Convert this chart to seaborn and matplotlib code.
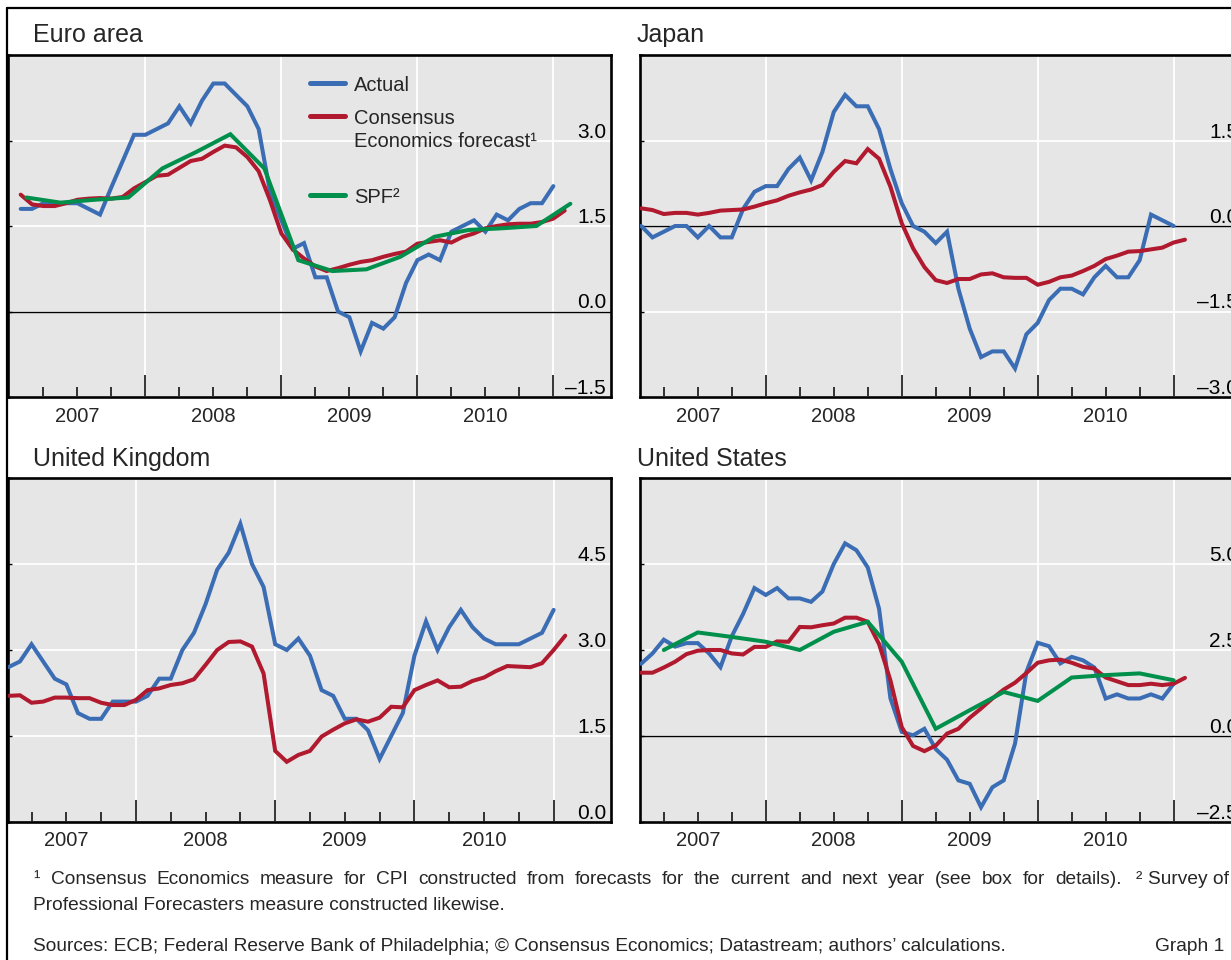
import numpy as np
import matplotlib
matplotlib.use("Agg")
import matplotlib.pyplot as plt
import matplotlib.transforms as mtransforms
from matplotlib.lines import Line2D
import seaborn as sns

# ---------------- data (monthly, index 1 = Jan 2007) ----------------
START_MONTH = 1

euro_actual = [1.8, 1.8, 1.9, 1.9, 1.9, 1.9, 1.8, 1.7, 2.18, 2.64, 3.1, 3.1,
               3.2, 3.3, 3.6, 3.3, 3.7, 4.0, 4.0, 3.8, 3.6, 3.2, 2.1, 1.6,
               1.1, 1.2, 0.6, 0.6, 0.0, -0.1, -0.7, -0.2, -0.3, -0.1, 0.5, 0.9,
               1.0, 0.9, 1.4, 1.5, 1.6, 1.4, 1.7, 1.6, 1.8, 1.9, 1.9, 2.2]
euro_consensus = [2.05, 1.88, 1.85, 1.85, 1.90, 1.96, 1.98, 1.99, 1.98, 2.01, 2.16, 2.27,
                  2.38, 2.40, 2.52, 2.64, 2.68, 2.80, 2.91, 2.88, 2.71, 2.46, 1.95, 1.37,
                  1.09, 0.93, 0.79, 0.71, 0.76, 0.82, 0.87, 0.90, 0.96, 1.01, 1.05, 1.19,
                  1.22, 1.25, 1.21, 1.31, 1.37, 1.46, 1.50, 1.53, 1.54, 1.54, 1.57, 1.63, 1.77]
# quarterly, plotted at mid-quarter
euro_spf = [2.00, 1.91, 1.96, 2.00, 2.51, 2.80, 3.11, 2.51, 0.90,
            0.71, 0.74, 0.96, 1.31, 1.43, 1.46, 1.50, 1.89]

japan_actual = [0.0, -0.2, -0.1, 0.0, 0.0, -0.2, 0.0, -0.2, -0.2, 0.3, 0.6, 0.7,
                0.7, 1.0, 1.2, 0.8, 1.3, 2.0, 2.3, 2.1, 2.1, 1.7, 1.0, 0.4,
                0.0, -0.1, -0.3, -0.1, -1.1, -1.8, -2.3, -2.2, -2.2, -2.5, -1.9, -1.7,
                -1.3, -1.1, -1.1, -1.2, -0.9, -0.7, -0.9, -0.9, -0.6, 0.2, 0.1, 0.0]
japan_consensus = [0.31, 0.28, 0.21, 0.23, 0.23, 0.20, 0.23, 0.27, 0.28, 0.29, 0.34, 0.40,
                   0.45, 0.53, 0.59, 0.64, 0.72, 0.95, 1.14, 1.10, 1.35, 1.18, 0.69, 0.05,
                   -0.39, -0.72, -0.95, -1.00, -0.93, -0.93, -0.85, -0.83, -0.90, -0.91, -0.91, -1.03,
                   -0.98, -0.90, -0.87, -0.79, -0.70, -0.58, -0.52, -0.45, -0.44, -0.41, -0.38, -0.29, -0.24]

uk_actual = [2.7, 2.8, 3.1, 2.8, 2.5, 2.4, 1.9, 1.8, 1.8, 2.1, 2.1, 2.1,
             2.2, 2.5, 2.5, 3.0, 3.3, 3.8, 4.4, 4.7, 5.2, 4.5, 4.1, 3.1,
             3.0, 3.2, 2.9, 2.3, 2.2, 1.8, 1.8, 1.6, 1.1, 1.5, 1.9, 2.9,
             3.5, 3.0, 3.4, 3.7, 3.4, 3.2, 3.1, 3.1, 3.1, 3.2, 3.3, 3.7]
uk_consensus = [2.20, 2.21, 2.08, 2.10, 2.17, 2.17, 2.16, 2.16, 2.08, 2.04, 2.04, 2.13,
                2.30, 2.33, 2.39, 2.42, 2.49, 2.74, 3.00, 3.14, 3.15, 3.06, 2.59, 1.24,
                1.05, 1.17, 1.24, 1.49, 1.61, 1.72, 1.79, 1.75, 1.82, 2.01, 2.00, 2.30,
                2.39, 2.47, 2.35, 2.36, 2.46, 2.52, 2.63, 2.72, 2.71, 2.70, 2.77, 3.00, 3.25]

us_actual = [2.1, 2.4, 2.8, 2.6, 2.7, 2.7, 2.4, 2.0, 2.9, 3.55, 4.3, 4.1,
             4.3, 4.0, 4.0, 3.9, 4.2, 5.0, 5.6, 5.4, 4.9, 3.7, 1.1, 0.12,
             0.02, 0.21, -0.38, -0.69, -1.29, -1.39, -2.07, -1.49, -1.29, -0.22, 1.86, 2.71,
             2.61, 2.11, 2.30, 2.20, 1.99, 1.09, 1.21, 1.09, 1.09, 1.21, 1.09, 1.52]
us_consensus = [1.84, 1.84, 1.99, 2.16, 2.38, 2.48, 2.50, 2.50, 2.40, 2.37, 2.59, 2.59,
                2.75, 2.74, 3.17, 3.16, 3.22, 3.27, 3.44, 3.44, 3.32, 2.67, 1.62, 0.26,
                -0.29, -0.44, -0.28, 0.07, 0.21, 0.53, 0.80, 1.09, 1.35, 1.55, 1.83, 2.13,
                2.20, 2.22, 2.13, 2.01, 1.96, 1.70, 1.59, 1.48, 1.48, 1.52, 1.48, 1.52, 1.69]
# quarterly, plotted at quarter end
us_spf = [2.50, 3.01, 2.88, 2.74, 2.50, 3.03, 3.32, 2.16, 0.21,
          0.75, 1.28, 1.02, 1.70, 1.77, 1.82, 1.62]

years = [2007, 2008, 2009, 2010]
legend_labels = ["Actual", "Consensus\nEconomics forecast\u00b9\n", "SPF\u00b2"]

foot1_mark = "\u00b9"
foot1_a = ("Consensus Economics measure for CPI constructed from forecasts for the current "
           "and next year (see box for details).")
foot1_mark2 = "\u00b2"
foot1_b = "Survey of"
foot2 = "Professional Forecasters measure constructed likewise."
sources = ("Sources: ECB; Federal Reserve Bank of Philadelphia; \u00a9 Consensus Economics; "
           "Datastream; authors\u2019 calculations.")
graph_label = "Graph 1"

# ---------------- style ----------------
sns.set_style("white", {"axes.facecolor": "#E6E6E6"})
plt.rcParams['font.family'] = ['Liberation Sans', 'DejaVu Sans']

BLUE = "#3B6DB4"
RED = "#B0192E"
GREEN = "#00904C"
LW = 2.9

W, H = 1231, 960
fig = plt.figure(figsize=(W / 100, H / 100), dpi=100)
fig.patch.set_facecolor("white")


def monthly_x(vals, start=START_MONTH):
    return 2007 + (start + np.arange(len(vals))) / 12.0


def quarterly_x(vals, first_month, step=3):
    return 2007 + (first_month + step * np.arange(len(vals))) / 12.0


panels = [
    dict(title="Euro area", tpos=(33, 35), box=(8, 55, 611, 397), xlim=(2006.99, 2011.424),
         ylim=(-1.5, 4.5), yticks=[-1.5, 0.0, 1.5, 3.0, 4.5],
         series=[(monthly_x(euro_actual), euro_actual, BLUE),
                 (monthly_x(euro_consensus), euro_consensus, RED),
                 (quarterly_x(euro_spf, 1.5), euro_spf, GREEN)],
         legend=True),
    dict(title="Japan", tpos=(637, 35), box=(640, 55, 1243, 397), xlim=(2007.075, 2011.51),
         ylim=(-3.0, 3.0), yticks=[-3.0, -1.5, 0.0, 1.5, 3.0],
         series=[(monthly_x(japan_actual), japan_actual, BLUE),
                 (monthly_x(japan_consensus), japan_consensus, RED)],
         legend=False),
    dict(title="United Kingdom", tpos=(33, 459), box=(8, 478, 611, 822), xlim=(2007.081, 2011.412),
         ylim=(0.0, 6.0), yticks=[0.0, 1.5, 3.0, 4.5, 6.0],
         series=[(monthly_x(uk_actual), uk_actual, BLUE),
                 (monthly_x(uk_consensus), uk_consensus, RED)],
         legend=False),
    dict(title="United States", tpos=(637, 459), box=(640, 478, 1243, 822), xlim=(2007.075, 2011.51),
         ylim=(-2.5, 7.5), yticks=[-2.5, 0.0, 2.5, 5.0, 7.5],
         series=[(monthly_x(us_actual), us_actual, BLUE),
                 (monthly_x(us_consensus), us_consensus, RED),
                 (quarterly_x(us_spf, 3), us_spf, GREEN)],
         legend=False),
]

for p in panels:
    l, t, r, b = p["box"]
    ax = fig.add_axes([l / W, 1 - b / H, (r - l) / W, (b - t) / H])
    ax.set_facecolor("#E6E6E6")
    handles = []
    for x, y, c in p["series"]:
        sns.lineplot(x=x, y=y, ax=ax, color=c, linewidth=LW, legend=False,
                     estimator=None, sort=False)
        handles.append(ax.lines[-1])
        ax.lines[-1].set_solid_joinstyle("miter")
        ax.lines[-1].set_zorder(3)
    ax.set_xlim(*p["xlim"])
    ax.set_ylim(*p["ylim"])

    ax.set_xticks([2008, 2009, 2010, 2011])
    ax.set_xticks([yr + q for yr in years for q in (0.25, 0.5, 0.75)], minor=True)
    ax.set_yticks(p["yticks"])
    ax.grid(True, which="major", color="white", linewidth=1.3)
    ax.grid(False, which="minor")
    ax.set_axisbelow(True)
    ax.axhline(0.0, color="black", linewidth=1.0, zorder=1)

    ax.tick_params(axis="x", which="major", direction="in", length=16, width=1.1,
                   color="black", bottom=True, top=False, labelbottom=False)
    ax.tick_params(axis="x", which="minor", direction="in", length=7.5, width=1.1,
                   color="black", bottom=True, top=False, labelbottom=False)
    ax.tick_params(axis="y", which="major", direction="in", length=3, width=1.0,
                   color="black", left=True, right=False, labelleft=False)
    ax.set_xlabel("")
    ax.set_ylabel("")
    for s in ax.spines.values():
        s.set_visible(True)
        s.set_color("black")
        s.set_linewidth(1.9)

    # right-side inner value labels (all but top)
    ytr = mtransforms.offset_copy(ax.get_yaxis_transform(), fig=fig, x=-5, y=3, units="dots")
    for v in p["yticks"][:-1]:
        lab = f"{v:.1f}".replace("-", "\u2013")
        ax.text(1.0, v, lab, transform=ytr, ha="right", va="baseline", fontsize=15, color="black")

    # year labels centered mid-year below the axis
    xtr = mtransforms.offset_copy(ax.get_xaxis_transform(), fig=fig, x=0, y=-19, units="dots")
    for yr in years:
        ax.text(yr + 0.5, 0, str(yr), transform=xtr, ha="center", va="center", fontsize=14.5)

    fig.text(p["tpos"][0] / W, 1 - p["tpos"][1] / H, p["title"], fontsize=18,
             ha="left", va="center")

    if p["legend"]:
        leg = ax.legend(handles, legend_labels, loc="upper left",
                        bbox_to_anchor=((310 - l) / (r - l), 1 - (76 - t) / (b - t)),
                        frameon=False, fontsize=14.5, handlelength=1.72,
                        handletextpad=0.45, borderpad=0, borderaxespad=0,
                        labelspacing=0.68)
        for lh in leg.get_lines():
            lh.set_linewidth(3.6)
        for txt in leg.get_texts():
            txt.set_linespacing(1.28)
        try:
            for col in leg._legend_handle_box.get_children():
                for item in col.get_children():
                    item.align = "top"
        except Exception:
            pass

# ---------------- footnotes ----------------
FS = 13.8
renderer = fig.canvas.get_renderer()


def justified(text, x0, x1, y, fs):
    words = text.split(" ")
    arts = [fig.text(0, 1 - y / H, w, fontsize=fs, ha="left", va="baseline") for w in words]
    widths = [a.get_window_extent(renderer).width for a in arts]
    gap = (x1 - x0 - sum(widths)) / max(len(words) - 1, 1)
    x = x0
    for a, wdt in zip(arts, widths):
        a.set_x(x / W)
        x += wdt + gap


fig.text(33 / W, 1 - 884 / H, foot1_mark, fontsize=FS, ha="left", va="baseline")
t_b = fig.text(1229 / W, 1 - 884 / H, foot1_b, fontsize=FS, ha="right", va="baseline")
wb = t_b.get_window_extent(renderer).width
t_m2 = fig.text(0, 1 - 884 / H, foot1_mark2, fontsize=FS, ha="left", va="baseline")
wm2 = t_m2.get_window_extent(renderer).width
x_m2 = 1229 - wb - 6 - wm2
t_m2.set_x(x_m2 / W)
justified(foot1_a, 51, x_m2 - 14, 884, FS)
fig.text(33 / W, 1 - 910 / H, foot2, fontsize=FS, ha="left", va="baseline")
fig.text(33 / W, 1 - 951 / H, sources, fontsize=FS, ha="left", va="baseline")
fig.text(1155 / W, 1 - 951 / H, graph_label, fontsize=FS, ha="left", va="baseline")

# outer frame lines
fig.add_artist(Line2D([7 / W, 7 / W], [0, 1 - 8 / H], transform=fig.transFigure,
                      color="black", linewidth=1.6))
fig.add_artist(Line2D([7 / W, 1], [1 - 8 / H, 1 - 8 / H], transform=fig.transFigure,
                      color="black", linewidth=1.6))

fig.savefig("out.png", dpi=100, facecolor="white")
